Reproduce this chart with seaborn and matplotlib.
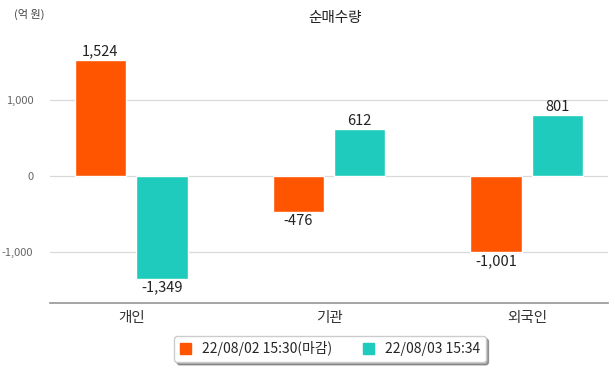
import pandas as pd
import seaborn as sns
import matplotlib.pyplot as plt

# values in 억 원
categories = ['개인', '기관', '외국인']
series_names = ['22/08/02 15:30(마감)', '22/08/03 15:34']
close_values = [1524, -476, -1001]
now_values = [-1349, 612, 801]
colors = ['#FF5500', '#1ECBBC']

df = pd.DataFrame({
    'cat': categories * 2,
    'series': [series_names[0]] * 3 + [series_names[1]] * 3,
    'value': close_values + now_values,
})

sns.set_theme(style='white')
plt.rcParams['font.family'] = ['Noto Sans CJK KR', 'DejaVu Sans']

fig = plt.figure(figsize=(6.15, 3.68), dpi=100)
ax = fig.add_axes([50 / 615, 65 / 368, 558 / 615, 263 / 368])

sns.barplot(data=df, x='cat', y='value', hue='series', palette=colors,
            width=0.62, gap=0.16, ax=ax, legend=False, saturation=1)

ax.set_ylim(-1671, 1789)
ax.set_xlim(-0.41, 2.41)
ax.set_yticks([-1000, 0, 1000])
ax.set_yticklabels(['-1,000', '0', '1,000'])
ax.yaxis.grid(True, color='#d9d9d9', linewidth=0.9)
ax.set_axisbelow(True)
for s in ['top', 'right', 'left']:
    ax.spines[s].set_visible(False)
ax.spines['bottom'].set_color('#999999')
ax.tick_params(axis='y', labelsize=8, labelcolor='#666666', length=0, pad=12)
ax.tick_params(axis='x', labelsize=10.5, labelcolor='#333333', length=0, pad=6)
ax.set_xlabel('')
ax.set_ylabel('')

# value labels
for cont in ax.containers:
    for bar in cont:
        h = bar.get_height()
        x = bar.get_x() + bar.get_width() / 2
        if h >= 0:
            ax.text(x, h + 20, f'{h:,.0f}', ha='center', va='bottom', fontsize=10.5, color='#222222')
        else:
            ax.text(x, h - 25, f'{h:,.0f}', ha='center', va='top', fontsize=10.5, color='#222222')

fig.text(335 / 615, 1 - 18 / 368, '순매수량', ha='center', va='center', fontsize=10.5, color='#222222')
fig.text(14 / 615, 1 - 14 / 368, '(억 원)', ha='left', va='center', fontsize=8, color='#444444')

handles = [plt.Rectangle((0, 0), 1, 1, color=c) for c in colors]
fig.legend(handles, series_names, loc='center', bbox_to_anchor=(330 / 615, 1 - 349 / 368),
           ncol=2, fontsize=10, frameon=True, fancybox=True, shadow=True,
           handlelength=0.8, handleheight=0.8, columnspacing=2.2, borderpad=0.4,
           edgecolor='#cccccc')

fig.savefig('out.png', dpi=100)
